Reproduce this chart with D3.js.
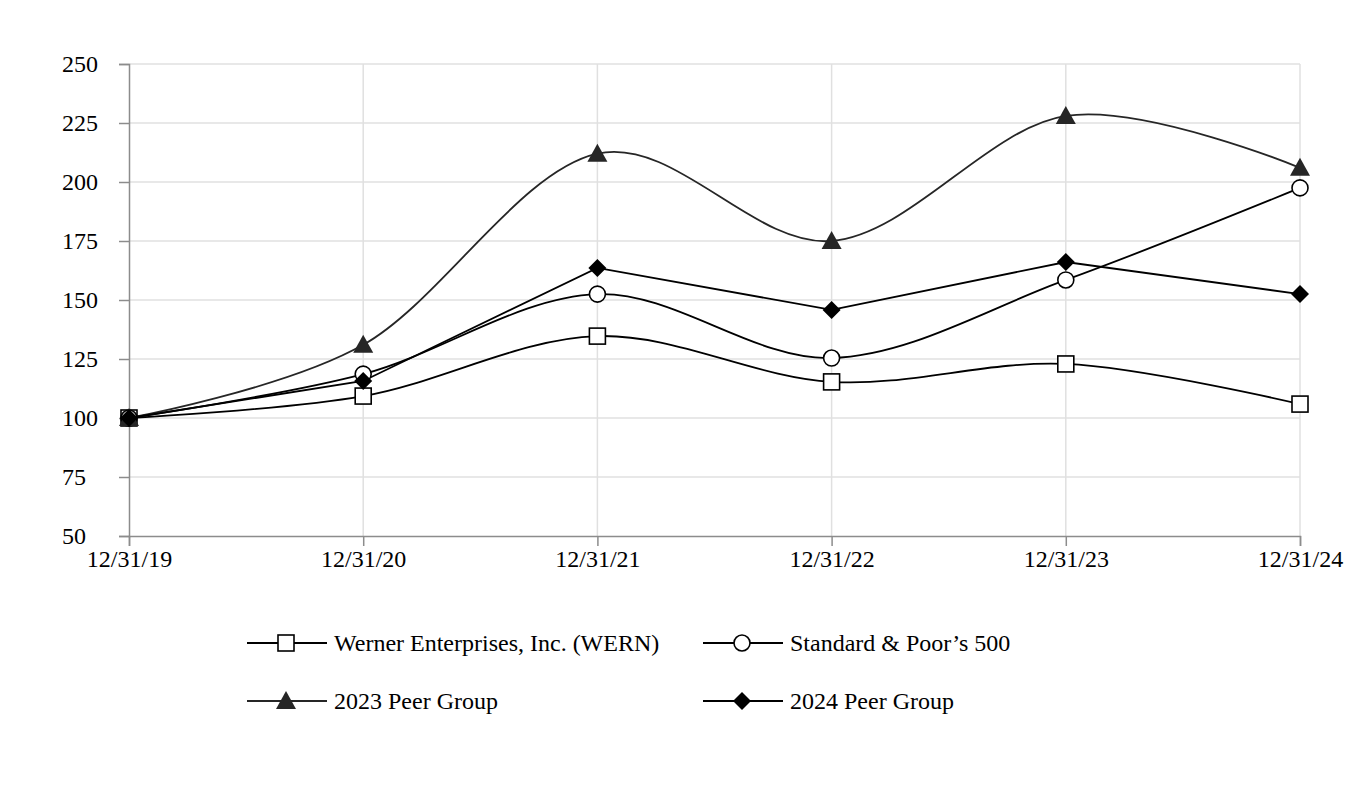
<!DOCTYPE html>
<html><head><meta charset="utf-8">
<script src="https://cdn.jsdelivr.net/npm/d3@7"></script>
<style>body{margin:0;background:#fff;} text{font-family:"Liberation Serif","Times New Roman",serif;fill:#000;}</style>
</head><body>
<svg id="c" width="1364" height="804"></svg>
<script>
const categories = ["12/31/19","12/31/20","12/31/21","12/31/22","12/31/23","12/31/24"];
const wern = [100, 109.3, 134.7, 115.3, 122.9, 105.9];
const sp500 = [100, 118.6, 152.5, 125.4, 158.5, 197.5];
const peer2023 = [100, 131, 212, 175, 228, 206];
const peer2024 = [100, 115.7, 163.6, 145.8, 166.1, 152.5];
const yTicks = [50, 75, 100, 125, 150, 175, 200, 225, 250];
const seriesNames = ["Werner Enterprises, Inc. (WERN)", "Standard & Poor\u2019s 500", "2023 Peer Group", "2024 Peer Group"];

const svg = d3.select("#c");
const x = d3.scalePoint().domain(categories).range([129, 1300]);
const y = d3.scaleLinear().domain([50, 250]).range([536, 64]);

// gridlines
svg.append("g").selectAll("line").data(yTicks.slice(1)).join("line")
  .attr("x1", 129).attr("x2", 1300).attr("y1", d => y(d)).attr("y2", d => y(d))
  .attr("stroke", "#e0e0e0").attr("stroke-width", 1.5);
svg.append("g").selectAll("line").data(categories.slice(1)).join("line")
  .attr("x1", d => x(d)).attr("x2", d => x(d)).attr("y1", 64).attr("y2", 536)
  .attr("stroke", "#e0e0e0").attr("stroke-width", 1.5);

// axes
const yAxis = svg.append("g").attr("transform", "translate(129,0)")
  .call(d3.axisLeft(y).tickValues(yTicks).tickSize(10));
const xAxis = svg.append("g").attr("transform", "translate(0,536)")
  .call(d3.axisBottom(x).tickSize(10).tickPadding(4));
[yAxis, xAxis].forEach(a => {
  a.select(".domain").attr("stroke", "#8c8c8c").attr("stroke-width", 1.5);
  a.selectAll(".tick line").attr("stroke", "#8c8c8c").attr("stroke-width", 1.5);
  a.selectAll("text").attr("font-size", 24).attr("font-family", "Liberation Serif").attr("fill", "#000");
});
yAxis.selectAll("text").attr("text-anchor", "start").attr("x", -67);

const smooth = d3.line().x((d, i) => x(categories[i])).y(d => y(d)).curve(d3.curveCardinal.tension(0));
const straight = d3.line().x((d, i) => x(categories[i])).y(d => y(d));

const series = [
  {vals: wern, line: smooth, color: "#000", marker: "square"},
  {vals: sp500, line: smooth, color: "#000", marker: "circle"},
  {vals: peer2023, line: smooth, color: "#262626", marker: "triangle"},
  {vals: peer2024, line: straight, color: "#000", marker: "diamond"}
];

function drawMarker(g, type, cx, cy, color) {
  if (type === "square") {
    g.append("rect").attr("x", cx - 8).attr("y", cy - 8).attr("width", 16).attr("height", 16)
      .attr("fill", "#fff").attr("stroke", "#000").attr("stroke-width", 1.6);
  } else if (type === "circle") {
    g.append("circle").attr("cx", cx).attr("cy", cy).attr("r", 8)
      .attr("fill", "#fff").attr("stroke", "#000").attr("stroke-width", 1.6);
  } else if (type === "triangle") {
    g.append("path").attr("d", `M${cx},${cy - 10}L${cx + 10},${cy + 8}L${cx - 10},${cy + 8}Z`)
      .attr("fill", color);
  } else {
    g.append("path").attr("d", `M${cx},${cy - 9}L${cx + 9},${cy}L${cx},${cy + 9}L${cx - 9},${cy}Z`)
      .attr("fill", "#000");
  }
}

series.forEach(s => {
  svg.append("path").attr("d", s.line(s.vals)).attr("fill", "none")
    .attr("stroke", s.color).attr("stroke-width", 1.8);
});
series.forEach(s => {
  const g = svg.append("g");
  s.vals.forEach((v, i) => drawMarker(g, s.marker, x(categories[i]), y(v), s.color));
});

// legend
const legendPos = [[247, 643], [703, 643], [247, 701], [703, 701]];
series.forEach((s, i) => {
  const [lx, ly] = legendPos[i];
  const g = svg.append("g");
  g.append("line").attr("x1", lx).attr("x2", lx + 80).attr("y1", ly).attr("y2", ly)
    .attr("stroke", s.color).attr("stroke-width", 1.8);
  drawMarker(g, s.marker, lx + 39, ly, s.color);
  g.append("text").attr("x", lx + 87).attr("y", ly + 8).attr("font-size", 24).text(seriesNames[i]);
});
</script>
</body></html>
